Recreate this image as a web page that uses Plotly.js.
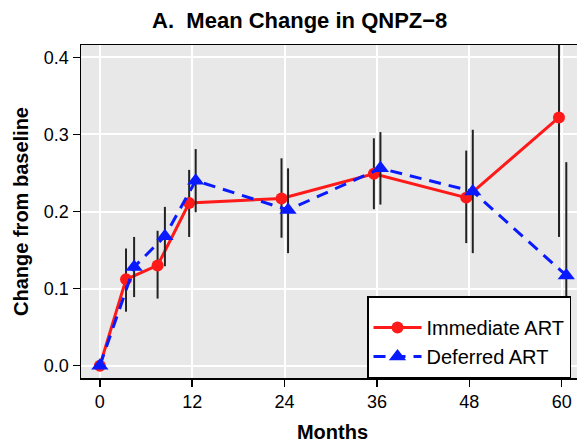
<!DOCTYPE html>
<html>
<head>
<meta charset="utf-8">
<script src="https://cdn.plot.ly/plotly-3.0.1.min.js"></script>
<style>
html,body{margin:0;padding:0;overflow:hidden;background:#fff;}
#chart{width:590px;height:445px;}
</style>
</head>
<body>
<div id="chart"></div>
<script>
// Data
const immMonths = [0, 3.4, 7.5, 11.6, 23.6, 35.6, 47.6, 59.65];
const immMean   = [0, 0.112, 0.130, 0.211, 0.217, 0.249, 0.218, 0.322];
const immLow    = [0, 0.070, 0.087, 0.167, 0.166, 0.203, 0.159, 0.167];
const immHigh   = [0, 0.152, 0.175, 0.254, 0.269, 0.295, 0.279, 0.477];

const defMonths = [0, 4.45, 8.45, 12.45, 24.45, 36.45, 48.45, 60.6];
const defMean   = [0, 0.128, 0.168, 0.240, 0.202, 0.256, 0.226, 0.117];
const defLow    = [0, 0.089, 0.129, 0.199, 0.146, 0.209, 0.146, -0.030];
const defHigh   = [0, 0.167, 0.206, 0.281, 0.256, 0.303, 0.306, 0.264];

const xTicks = [0, 12, 24, 36, 48, 60];
const yTicks = [0.0, 0.1, 0.2, 0.3, 0.4];

const FONT = "Liberation Sans, Arial, Helvetica, sans-serif";

function errs(mean, lo, hi) {
  return {
    type: 'data', symmetric: false,
    array: hi.map((h, i) => h - mean[i]),
    arrayminus: lo.map((l, i) => mean[i] - l),
    color: '#222222', thickness: 2, width: 0
  };
}

const traces = [
  {
    x: immMonths, y: immMean, name: 'Immediate ART',
    type: 'scatter', mode: 'lines+markers',
    line: {color: '#ff1a1a', width: 3},
    marker: {color: '#ff1a1a', size: 12, symbol: 'circle'},
    error_y: errs(immMean, immLow, immHigh)
  },
  {
    x: defMonths, y: defMean, name: 'Deferred ART',
    type: 'scatter', mode: 'lines+markers',
    line: {color: '#0a1aff', width: 3, dash: '12px,8px'},
    marker: {color: '#0a1aff', size: 15, symbol: 'triangle-up'},
    error_y: errs(defMean, defLow, defHigh)
  }
];

const layout = {
  width: 590, height: 445,
  margin: {l: 81, r: 6, t: 45, b: 67},
  paper_bgcolor: '#ffffff',
  plot_bgcolor: '#e8e8e8',
  font: {family: FONT, color: '#000000', size: 18},
  title: {
    text: '<b>A.  Mean Change in QNPZ\u22128</b>',
    font: {family: FONT, size: 22, color: '#000'},
    x: 0.508, xref: 'container', xanchor: 'center',
    y: 0.955, yref: 'container', yanchor: 'middle'
  },
  xaxis: {
    range: [-2.45, 62.9],
    tickvals: xTicks, ticktext: xTicks.map(String),
    ticks: 'outside', ticklen: 7, tickwidth: 1.5, tickcolor: '#000',
    showline: true, linecolor: '#000', linewidth: 1.5, mirror: true,
    showgrid: true, gridcolor: '#ffffff', gridwidth: 2,
    zeroline: false,
    tickfont: {family: FONT, size: 18},
    title: {text: '<b>Months</b>', font: {family: FONT, size: 20}, standoff: 14}
  },
  yaxis: {
    range: [-0.016, 0.416],
    tickvals: yTicks, ticktext: yTicks.map(v => v.toFixed(1)),
    ticks: 'outside', ticklen: 7, tickwidth: 1.5, tickcolor: '#000',
    showline: true, linecolor: '#000', linewidth: 1.5, mirror: true,
    showgrid: true, gridcolor: '#ffffff', gridwidth: 2,
    zeroline: false,
    tickfont: {family: FONT, size: 18},
    title: {text: '<b>Change from baseline</b>', font: {family: FONT, size: 20}, standoff: 10}
  },
  showlegend: true,
  legend: {
    x: 0.5686, xanchor: 'left', y: 0, yanchor: 'bottom',
    bgcolor: '#ffffff', bordercolor: '#000000', borderwidth: 1.5,
    font: {family: FONT, size: 20, color: '#000'},
    itemwidth: 48,
    entrywidth: 218,
    title: {text: ' ', font: {size: 8}},
    tracegroupgap: 0
  }
};

Plotly.newPlot('chart', traces, layout, {displayModeBar: false, staticPlot: true});
</script>
</body>
</html>
